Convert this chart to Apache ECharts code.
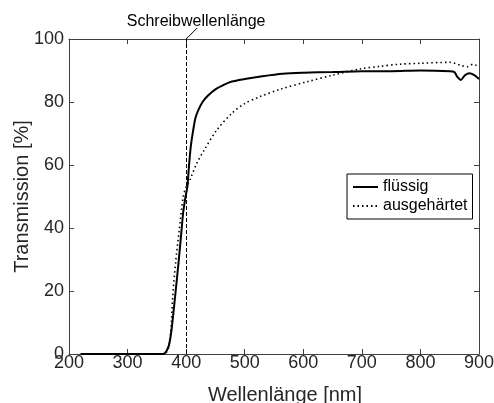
<!DOCTYPE html>
<html>
<head>
<meta charset="utf-8">
<script src="https://cdn.jsdelivr.net/npm/echarts@6/dist/echarts.min.js"></script>
<style>html,body{margin:0;padding:0;background:#fff}#c{width:494px;height:403px}</style>
</head>
<body>
<div id="c"></div>
<script>
// Data
const wlFluessig = [220, 300, 360, 364, 368, 371, 375, 381, 387, 392, 395, 399, 402, 405, 408, 412, 416, 421, 428, 437, 450, 465, 478, 500, 530, 565, 600, 650, 700, 750, 800, 850, 858, 863, 869, 876, 884, 892, 900];
const trFluessig = [0, 0, 0, 0.3, 1.5, 3, 7.6, 18, 29, 39, 45, 50, 53, 60, 66, 71, 75, 77.5, 80, 82, 84, 85.5, 86.5, 87.3, 88.2, 89, 89.3, 89.5, 89.8, 89.8, 90, 89.8, 89.5, 88, 87, 88.5, 89.1, 88.5, 87.3];
const wlAusgehaertet = [220, 300, 360, 366, 370, 374, 377, 382, 388, 395, 400, 407, 418, 430, 452, 478, 500, 526, 560, 606, 650, 697, 730, 765, 800, 850, 860, 868, 880, 890, 900];
const trAusgehaertet = [0, 0, 0, 0.5, 2, 7.6, 18, 29, 39, 50, 53, 55.5, 60.5, 64.5, 71, 76.4, 79.5, 81.7, 84, 86.4, 88.5, 90.5, 91.3, 92, 92.3, 92.6, 92.2, 91.7, 91.2, 92, 91];
const seriesNames = ['flüssig', 'ausgehärtet'];
const writeWavelength = 400;
const annotationText = 'Schreibwellenlänge';
const xTitle = 'Wellenlänge [nm]';
const yTitle = 'Transmission [%]';

const FONT = 'Liberation Sans, Arial, sans-serif';
const TXT = '#262626';
const AX = '#404040';

const chart = echarts.init(document.getElementById('c'), null, {renderer: 'canvas'});
const pairs = (xs, ys) => xs.map((x, i) => [x, ys[i]]);

const baseX = {type: 'value', min: 200, max: 900, interval: 100, splitLine: {show: false}};
const baseY = {type: 'value', min: 0, max: 100, interval: 20, splitLine: {show: false}};

chart.setOption({
  animation: false,
  backgroundColor: '#fff',
  grid: {left: 69, right: 15, top: 39, bottom: 49, containLabel: false, outerBoundsMode: 'none'},
  legend: {
    left: 347, top: 174, orient: 'vertical',
    data: seriesNames,
    itemStyle: {opacity: 0},
    backgroundColor: '#fff', borderColor: '#000', borderWidth: 1, borderRadius: 0,
    padding: [5, 5, 5, 5], itemGap: 3, itemWidth: 25, itemHeight: 14,
    textStyle: {fontFamily: FONT, fontSize: 16, color: '#000'}
  },
  xAxis: [
    Object.assign({}, baseX, {
      position: 'bottom',
      name: xTitle, nameLocation: 'middle', nameGap: 31, nameMoveOverlap: false,
      nameTextStyle: {fontFamily: FONT, fontSize: 20, color: TXT, padding: [0, 0, 0, 22]},
      axisLine: {show: true, onZero: false, lineStyle: {color: AX, width: 1}},
      axisTick: {show: true, inside: true, length: 5, lineStyle: {color: AX}},
      axisLabel: {fontFamily: FONT, fontSize: 18, color: TXT, margin: 0}
    }),
    Object.assign({}, baseX, {
      position: 'top',
      axisLine: {show: true, onZero: false, lineStyle: {color: AX, width: 1}},
      axisTick: {show: true, inside: true, length: 5, lineStyle: {color: AX}},
      axisLabel: {show: false}
    })
  ],
  yAxis: [
    Object.assign({}, baseY, {
      position: 'left',
      name: yTitle, nameLocation: 'middle', nameGap: 37, nameMoveOverlap: false,
      nameTextStyle: {fontFamily: FONT, fontSize: 20, color: TXT},
      axisLine: {show: true, onZero: false, lineStyle: {color: AX, width: 1}},
      axisTick: {show: true, inside: true, length: 5, lineStyle: {color: AX}},
      axisLabel: {fontFamily: FONT, fontSize: 18, color: TXT, margin: 5}
    }),
    Object.assign({}, baseY, {
      position: 'right',
      axisLine: {show: true, onZero: false, lineStyle: {color: AX, width: 1}},
      axisTick: {show: true, inside: true, length: 5, lineStyle: {color: AX}},
      axisLabel: {show: false}
    })
  ],
  series: [
    {
      name: seriesNames[0], type: 'line', xAxisIndex: 0, yAxisIndex: 0,
      data: pairs(wlFluessig, trFluessig), showSymbol: false, symbol: 'none', smooth: 0.3,
      lineStyle: {color: '#000', width: 2, type: 'solid'}, itemStyle: {color: '#000'},
      markLine: {
        silent: true, symbol: 'none', label: {show: false},
        lineStyle: {color: '#000', width: 1, type: [4, 2]},
        data: [{xAxis: writeWavelength}]
      },
      z: 3
    },
    {
      name: seriesNames[1], type: 'line', xAxisIndex: 0, yAxisIndex: 0,
      data: pairs(wlAusgehaertet, trAusgehaertet), showSymbol: false, symbol: 'none', smooth: 0.3,
      lineStyle: {color: '#000', width: 1.6, type: [1.5, 3]}, itemStyle: {color: '#000'},
      z: 2
    }
  ]
});

const p = chart.convertToPixel({xAxisIndex: 0, yAxisIndex: 0}, [writeWavelength, 100]);
chart.setOption({
  graphic: [
    {type: 'line', shape: {x1: p[0], y1: p[1], x2: p[0] + 11, y2: p[1] - 11},
     style: {stroke: '#000', lineWidth: 1}, z: 10},
    {type: 'text', x: p[0] + 10, y: p[1] - 17,
     style: {text: annotationText, font: '16px ' + FONT, fill: '#000', textAlign: 'center', textVerticalAlign: 'middle'}, z: 10}
  ]
});
</script>
</body>
</html>
